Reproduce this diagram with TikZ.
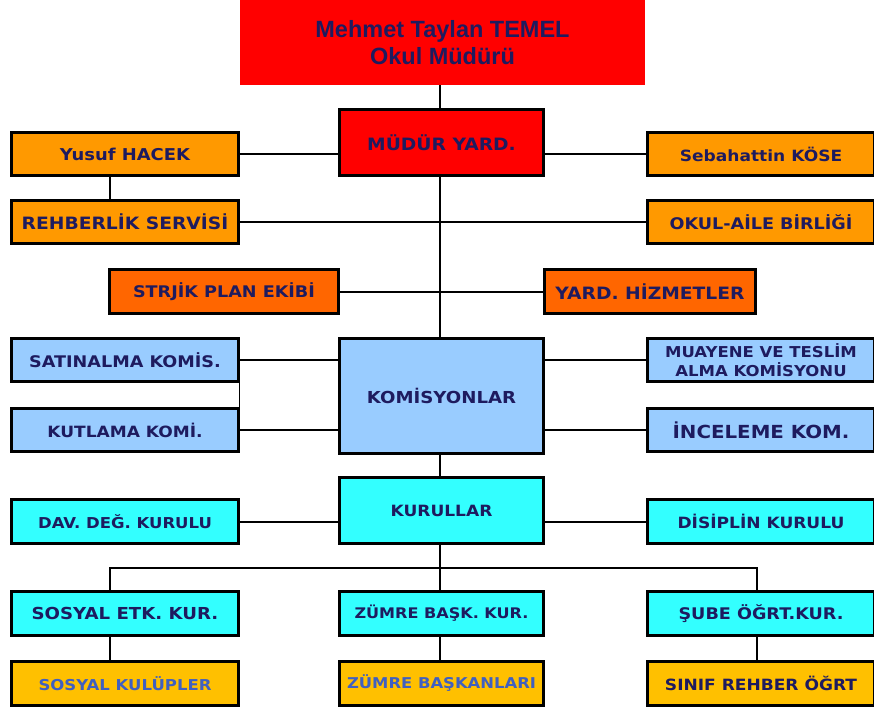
\documentclass[tikz,border=0pt]{standalone}
\usepackage{fontspec}
\setmainfont{Liberation Sans}
\newfontfamily\comic{DejaVu Sans}[FakeStretch=1.1]
\definecolor{navy}{RGB}{30,27,95}
\definecolor{kblue}{RGB}{64,96,192}
\definecolor{cred}{RGB}{255,0,0}
\definecolor{corange}{RGB}{255,153,0}
\definecolor{cdorange}{RGB}{255,102,0}
\definecolor{clblue}{RGB}{153,204,255}
\definecolor{ccyan}{RGB}{51,255,255}
\definecolor{cgold}{RGB}{255,192,0}
\newcommand{\cfs}[1]{\comic\bfseries\fontsize{#1}{#1}\selectfont}
\tikzset{
  box/.style={draw=black, line width=3pt, inner sep=0pt, align=center,
    text=navy, font=\cfs{15.5}},
  conn/.style={draw=black, line width=2pt},
}
\begin{document}
\begin{tikzpicture}[x=1pt,y=-1pt]
\useasboundingbox (0,0) rectangle (874,713);
% nodes
\node[fill=cred, inner sep=0pt, minimum width=405pt, minimum height=85pt, align=center, text=navy,
  font=\bfseries\fontsize{23.5}{27}\selectfont] (top) at (442.5,42.5) {Mehmet Taylan TEMEL\\Okul Müdürü};
\node[box, fill=cred, minimum width=204pt, minimum height=66pt, font=\cfs{17}] (myard) at (441.5,142.5) {MÜDÜR YARD.};
\node[box, fill=corange, minimum width=227pt, minimum height=43pt, font=\cfs{16.3}] (yusuf) at (125,154) {Yusuf HACEK};
\node[box, fill=corange, minimum width=227pt, minimum height=43pt] (sebah) at (761,154) {Sebahattin KÖSE};
\node[box, fill=corange, minimum width=227pt, minimum height=43pt, font=\cfs{17}] (rehber) at (125,222) {REHBERLİK SERVİSİ};
\node[box, fill=corange, minimum width=227pt, minimum height=43pt, font=\cfs{16}] (okul) at (761,222) {OKUL-AİLE BİRLİĞİ};
\node[box, fill=cdorange, minimum width=229pt, minimum height=44pt, font=\cfs{16}] (strjik) at (224,291.5) {STRJİK PLAN EKİBİ};
\node[box, fill=cdorange, minimum width=211pt, minimum height=44pt, font=\cfs{17}] (yardh) at (650,291.5) {YARD. HİZMETLER};
\node[box, fill=clblue, minimum width=227pt, minimum height=43pt, font=\cfs{16}] (satin) at (125,360) {SATINALMA KOMİS.};
\node[box, fill=clblue, minimum width=227pt, minimum height=43pt, font=\comic\bfseries\fontsize{15}{19}\selectfont] (muay) at (761,360) {MUAYENE VE TESLİM\\ALMA KOMİSYONU};
\node[box, fill=clblue, minimum width=204pt, minimum height=115pt, font=\cfs{16.5}] (komis) at (441.5,396) {KOMİSYONLAR};
\node[box, fill=clblue, minimum width=227pt, minimum height=43pt] (kutla) at (125,430) {KUTLAMA KOMİ.};
\node[box, fill=clblue, minimum width=227pt, minimum height=43pt, font=\cfs{18}] (incel) at (761,430) {İNCELEME KOM.};
\node[box, fill=ccyan, minimum width=204pt, minimum height=66pt] (kurul) at (441.5,510.5) {KURULLAR};
\node[box, fill=ccyan, minimum width=227pt, minimum height=44pt, font=\cfs{15}] (dav) at (125,521.5) {DAV. DEĞ. KURULU};
\node[box, fill=ccyan, minimum width=227pt, minimum height=44pt] (disip) at (761,521.5) {DİSİPLİN KURULU};
\node[box, fill=ccyan, minimum width=227pt, minimum height=44pt, font=\cfs{16.5}] (sosyal) at (125,613.5) {SOSYAL ETK. KUR.};
\node[box, fill=ccyan, minimum width=204pt, minimum height=44pt, font=\cfs{14.6}] (zumre) at (441.5,613.5) {ZÜMRE BAŞK. KUR.};
\node[box, fill=ccyan, minimum width=227pt, minimum height=44pt, font=\cfs{16}] (sube) at (761,613.5) {ŞUBE ÖĞRT.KUR.};
\node[box, fill=cgold, minimum width=227pt, minimum height=44pt, text=kblue, font=\cfs{15}] (kulup) at (125,683.5) {SOSYAL KULÜPLER};
\node[box, fill=cgold, minimum width=204pt, minimum height=44pt, text=kblue, font=\cfs{14.9}] (zbask) at (441.5,683.5) {ZÜMRE BAŞKANLARI};
\node[box, fill=cgold, minimum width=227pt, minimum height=44pt] (sinif) at (761,683.5) {SINIF REHBER ÖĞRT};
% connectors
\coordinate (bus) at (440,568);
\draw[conn] ([xshift=-1.5pt]myard.north) -- ([xshift=-1.5pt]myard.north |- top.south);
\draw[conn] ([xshift=-1.5pt]myard.south) -- ([xshift=-1.5pt]komis.north);
\draw[conn] ([xshift=-1.5pt]komis.south) -- ([xshift=-1.5pt]kurul.north);
\draw[conn] (yusuf.east) -- (yusuf.east -| myard.west);
\draw[conn] (sebah.west) -- (sebah.west -| myard.east);
\draw[conn] ([xshift=-15pt]yusuf.south) -- ([xshift=-15pt]rehber.north);
\draw[conn] (rehber.east) -- (okul.west);
\draw[conn] (strjik.east) -- (yardh.west);
\draw[conn] (satin.east) -- (satin.east -| komis.west);
\draw[conn] (kutla.east) -- (kutla.east -| komis.west);
\draw[conn] (muay.west) -- (muay.west -| komis.east);
\draw[conn] (incel.west) -- (incel.west -| komis.east);
\draw[line width=1pt] ([xshift=-1pt]satin.south east) -- ([xshift=-1pt]kutla.north east);
\draw[conn] (dav.east) -- (dav.east -| kurul.west);
\draw[conn] (disip.west) -- (disip.west -| kurul.east);
\draw[conn] ([xshift=-1.5pt]kurul.south) -- ([xshift=-1.5pt]zumre.north);
\draw[conn] ([xshift=-15pt]sosyal.north) |- (bus) -| ([xshift=-4pt]sube.north);
\draw[conn] ([xshift=-15pt]sosyal.south) -- ([xshift=-15pt]kulup.north);
\draw[conn] ([xshift=-1.5pt]zumre.south) -- ([xshift=-1.5pt]zbask.north);
\draw[conn] ([xshift=-4pt]sube.south) -- ([xshift=-4pt]sinif.north);
\end{tikzpicture}
\end{document}
